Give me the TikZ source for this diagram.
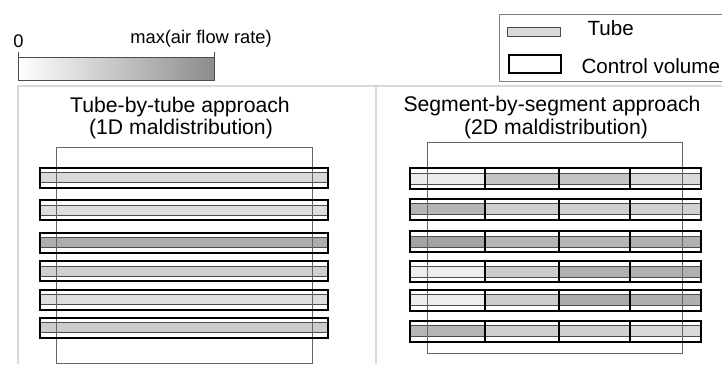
\documentclass[tikz,border=0pt]{standalone}
\usepackage{fontspec}
\setmainfont{Liberation Sans}
\tikzset{
	panel/.style={draw=black!15, line width=2pt},
	ctrlvol/.style={draw=black, line width=2pt},
	tubeband/.style={draw=black!70, line width=0.9pt},
	cvframe/.style={draw=black!60, line width=1pt},
	titletext/.style={font=\fontsize{21.2}{25}\selectfont, anchor=base},
	legendtext/.style={font=\fontsize{20.6}{24}\selectfont, anchor=base west},
	scaletext/.style={font=\fontsize{18.3}{22}\selectfont, anchor=base}
}
% rows: top edge / fill (left panel)
\def\leftrows{167.5/15, 200/13, 232.5/32, 261/19, 289.5/13, 317.5/20}
% rows: top edge / fill of the four segments (right panel)
\def\rightrows{168/7.5/23/23/14.5, 198.5/29/19/19/18, 231/36/29/29/31,
	261/7/20/31/31, 289.5/7/20/33/31, 320.5/29/19/19/15}
\begin{document}
\begin{tikzpicture}[x=1pt, y=-1pt]
	\useasboundingbox (0,0) rectangle (722,364);
	% colour scale
	\shade[left color=white, right color=black!45] (18,57) rectangle (214,80);
	\draw[black!70, line width=1pt] (18,57) rectangle (214,80);
	\draw[black!70, line width=1pt] (18,52) -- (18,57) (214,52) -- (214,57);
	\node[scaletext] (zero) at (18.5,47) {0};
	\node[scaletext] (maxrate) at (201,43.5) {max(air flow rate)};
	% legend
	\draw[black!50, line width=1pt] (499,14) rectangle (740,81);
	\draw[tubeband, fill=black!15] (507,27) rectangle (560,36);
	\node[legendtext] (tubelbl) at (584,35) {Tube};
	\draw[ctrlvol] (509,55) rectangle (561,73);
	\node[legendtext] (cvlbl) at (578,73) {Control volume};
	% panels
	\draw[panel] (18,364) -- (18,86) -- (722,86);
	\draw[panel] (376,86) -- (376,364);
	% tube-by-tube
	\node[titletext] (lefttitle) at (180,112.5) {Tube-by-tube approach};
	\node[titletext] (leftsub) at (181,134) {(1D maldistribution)};
	\foreach \y/\c in \leftrows {
		\draw[tubeband, fill=black!\c] (40,\y+5) rectangle (328,\y+15);
	}
	\draw[cvframe] (56,147) rectangle (312,363);
	\foreach \y/\c in \leftrows {
		\draw[ctrlvol] (40,\y) rectangle (328,\y+20);
	}
	% segment-by-segment
	\node[titletext] (righttitle) at (552,111.5) {Segment-by-segment approach};
	\node[titletext] (rightsub) at (556,134) {(2D maldistribution)};
	\foreach \y/\ca/\cb/\cc/\cd in \rightrows {
		\foreach \xa/\xb/\c in {410/485/\ca, 485/559/\cb, 559/630/\cc, 630/701/\cd} {
			\draw[tubeband, fill=black!\c] (\xa,\y+5) rectangle (\xb,\y+16);
		}
	}
	\draw[cvframe] (427,142) rectangle (682,353);
	\foreach \y/\ca/\cb/\cc/\cd in \rightrows {
		\foreach \xa/\xb in {410/485, 485/559, 559/630, 630/701} {
			\draw[ctrlvol] (\xa,\y) rectangle (\xb,\y+21);
		}
	}
\end{tikzpicture}
\end{document}
